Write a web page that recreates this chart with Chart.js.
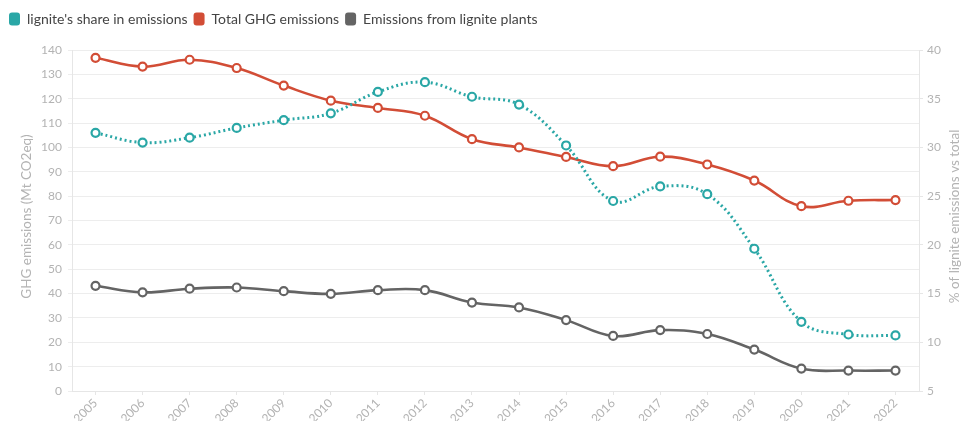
<!DOCTYPE html>
<html><head><meta charset="utf-8">
<script src="https://cdn.jsdelivr.net/npm/chart.js@4/dist/chart.umd.min.js"></script>
<style>html,body{margin:0;padding:0;background:#fff;overflow:hidden}#wrap{width:963px;height:421px}</style>
</head><body><div id="wrap"><canvas id="c" width="963" height="421"></canvas></div>
<script>
const years = ['2005','2006','2007','2008','2009','2010','2011','2012','2013','2014','2015','2016','2017','2018','2019','2020','2021','2022'];
const ligniteShare = [31.5,30.5,31.0,32.0,32.8,33.5,35.7,36.7,35.2,34.4,30.2,24.5,26.0,25.2,19.6,12.1,10.8,10.7];
const totalGHG = [136.8,133.2,136.0,132.6,125.4,119.2,116.2,113.0,103.4,100.0,96.1,92.3,96.2,93.0,86.4,75.9,78.1,78.4];
const ligniteEmissions = [43.2,40.5,42.0,42.5,41.0,39.9,41.4,41.4,36.3,34.3,29.1,22.6,25.0,23.4,17.0,9.2,8.4,8.4];
const leftTicks = {min:0,max:140,step:10};
const rightTicks = {min:5,max:40,step:5};
const leftTitle = 'GHG emissions (Mt CO2eq)';
const rightTitle = '% of lignite emissions vs total';

const font = "'Lato','Open Sans',sans-serif";
Chart.defaults.font.family = font;
Chart.defaults.animation = false;
const teal='#2aa7a6', red='#d24d36', gray='#646464', tick='#b3b3b3', grid='#ededed';
function ds(label,data,color,axis,dash){
  return {label,data,yAxisID:axis,borderColor:color,backgroundColor:color,
    pointBackgroundColor:'#fff',pointBorderColor:color,pointRadius:4,pointBorderWidth:2.2,
    borderWidth:dash?3:2.6,borderDash:dash||[],borderCapStyle:'butt',tension:0.4,fill:false};
}
const legendMargin = {id:'legendMargin',beforeInit(chart){
  const orig = chart.legend.fit;
  chart.legend.fit = function(){ orig.bind(chart.legend)(); this.height += 14; };
}};
const axisTitles = {id:'axisTitles',afterDraw(chart){
  const ctx = chart.ctx, a = chart.chartArea, cy = (a.top+a.bottom)/2 - 4;
  ctx.save();
  ctx.fillStyle = tick; ctx.font = "13.5px " + font; ctx.textAlign='center'; ctx.textBaseline='middle';
  ctx.translate(27, cy); ctx.rotate(-Math.PI/2); ctx.fillText(leftTitle,0,0);
  ctx.restore();
  ctx.save();
  ctx.fillStyle = tick; ctx.font = "13.5px " + font; ctx.textAlign='center'; ctx.textBaseline='middle';
  ctx.translate(955, cy); ctx.rotate(-Math.PI/2); ctx.fillText(rightTitle,0,0);
  ctx.restore();
}};
new Chart(document.getElementById('c'),{
  type:'line',
  data:{labels:years,datasets:[
    ds("lignite's share in emissions",ligniteShare,teal,'y1',[2,3]),
    ds('Total GHG emissions',totalGHG,red,'y'),
    ds('Emissions from lignite plants',ligniteEmissions,gray,'y')
  ]},
  plugins:[legendMargin,axisTitles],
  options:{responsive:false,maintainAspectRatio:false,
    layout:{padding:{left:3,right:0,top:6,bottom:0}},
    plugins:{legend:{position:'top',align:'start',
      labels:{color:'#444',font:{size:14},boxWidth:11,boxHeight:13,padding:6,useBorderRadius:true,borderRadius:3,
        generateLabels:(ch)=>ch.data.datasets.map((d,i)=>({text:d.label,fillStyle:d.borderColor,strokeStyle:d.borderColor,lineWidth:0,datasetIndex:i,borderRadius:3,fontColor:'#444'}))}},
      tooltip:{enabled:false}},
    scales:{
      x:{offset:true,grid:{display:true,drawOnChartArea:false,offset:false,color:'#e6e6e6',tickLength:4},border:{color:'#e6e6e6'},
        ticks:{color:tick,font:{size:12},maxRotation:45,minRotation:45,padding:1},
        afterFit(s){ s.height = 30; }},
      y:{position:'left',min:leftTicks.min,max:leftTicks.max,
        ticks:{stepSize:leftTicks.step,color:tick,font:{size:12},padding:6},
        grid:{color:grid,tickLength:4},border:{color:'#e6e6e6'},
        afterFit(s){ s.width = 69; }},
      y1:{position:'right',min:rightTicks.min,max:rightTicks.max,
        ticks:{stepSize:rightTicks.step,color:tick,font:{size:12},padding:4},
        grid:{drawOnChartArea:false,color:'#e6e6e6',tickLength:4},border:{color:'#e6e6e6'},
        afterFit(s){ s.width = 44; }}
    }}
});
</script></body></html>
